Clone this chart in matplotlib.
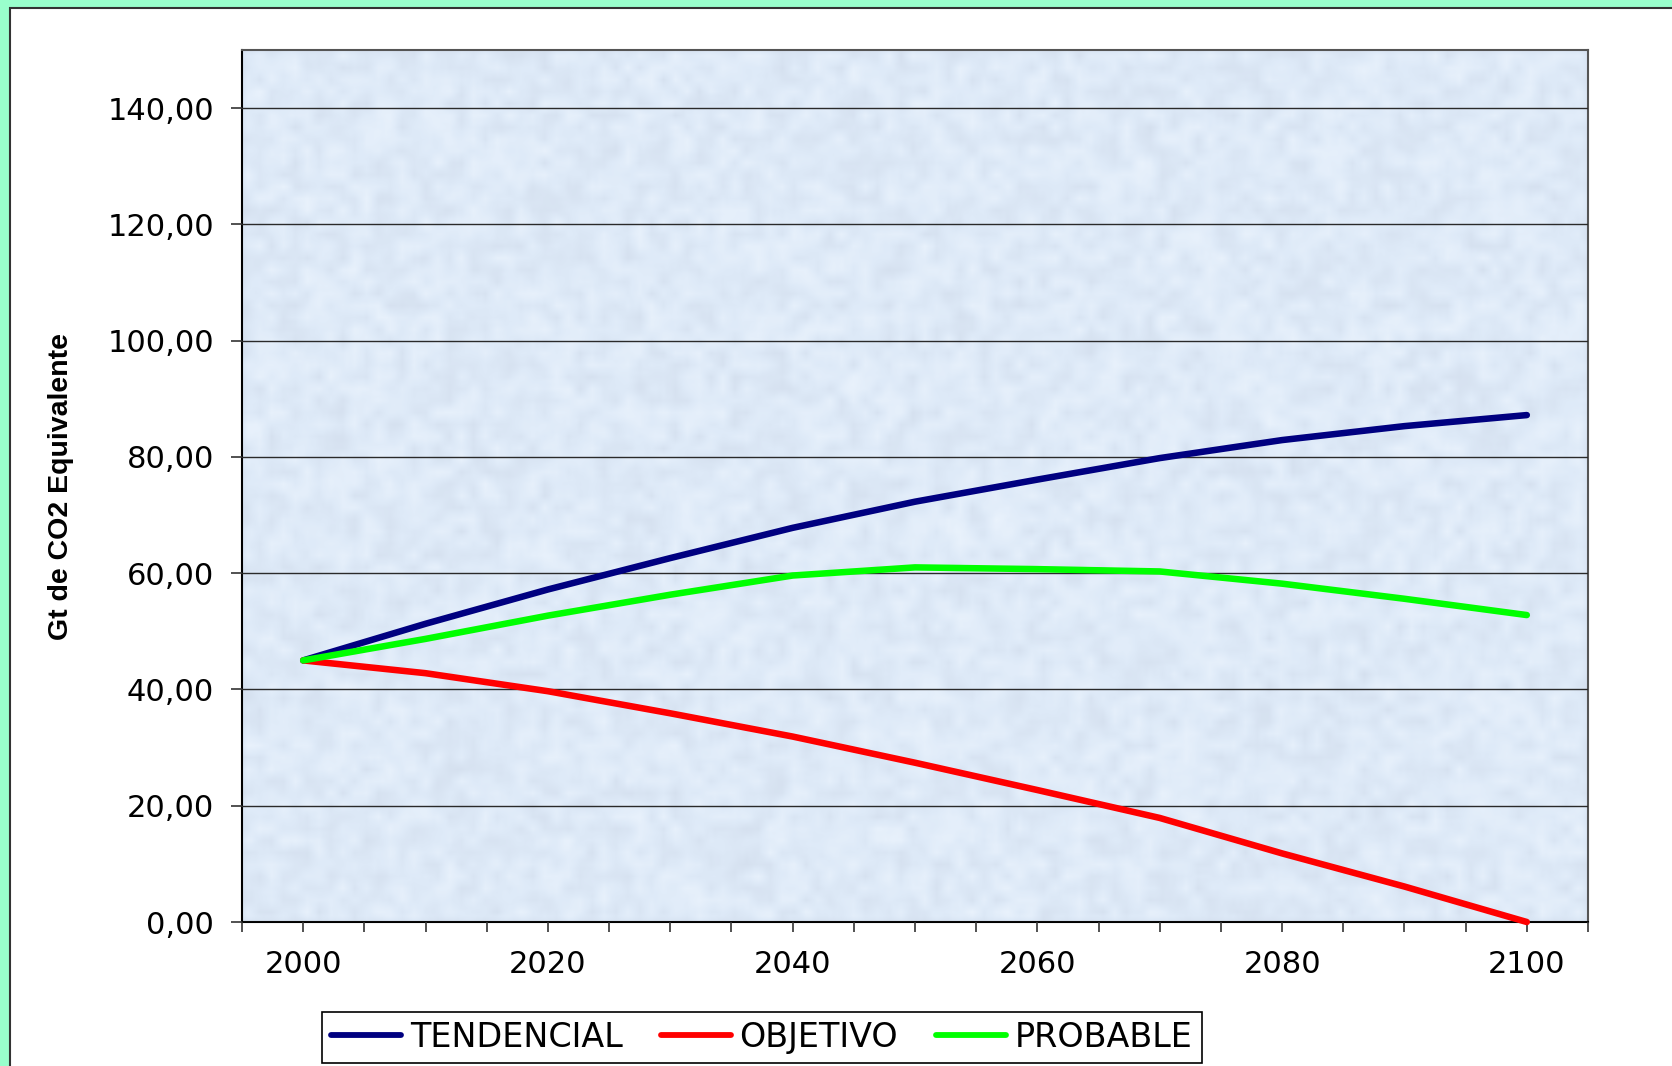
import numpy as np
import matplotlib
matplotlib.use("Agg")
import matplotlib.pyplot as plt
from matplotlib.patches import Rectangle
from matplotlib.ticker import FixedLocator, FuncFormatter
from matplotlib.lines import Line2D

# ---- data -----------------------------------------------------------------
years = [2000, 2010, 2020, 2030, 2040, 2050, 2060, 2070, 2080, 2090, 2100]
tendencial = [45.0, 51.3, 57.2, 62.6, 67.8, 72.3, 76.1, 79.8, 82.9, 85.3, 87.2]
objetivo = [45.0, 42.8, 39.7, 35.9, 31.9, 27.4, 22.7, 17.9, 11.8, 6.1, 0.0]
probable = [45.0, 48.7, 52.7, 56.3, 59.6, 61.0, 60.7, 60.3, 58.2, 55.6, 52.8]

series_names = ["TENDENCIAL", "OBJETIVO", "PROBABLE"]
series_colors = ["#000080", "#FF0000", "#00FF00"]
y_ticks = [0, 20, 40, 60, 80, 100, 120, 140]
x_label_years = [2000, 2020, 2040, 2060, 2080, 2100]
y_title = "Gt de CO2 Equivalente"

# ---- figure & page frame --------------------------------------------------
W, H = 1672, 1066
fig = plt.figure(figsize=(W / 100, H / 100), dpi=100)
fig.patch.set_facecolor("#99FFCC")
fig.patches.append(Rectangle((10 / W, -0.02), 1.2, (H - 8) / H + 0.02,
                             transform=fig.transFigure, facecolor="white",
                             edgecolor="#333333", linewidth=1.5, zorder=-5))

ax = fig.add_axes([242 / W, 1 - 922 / H, (1588 - 242) / W, (922 - 50) / H])
ax.set_xlim(1995, 2105)
ax.set_ylim(0, 150)

# mottled light-blue plot-area fill (deterministic hash texture)
ny, nx = 220, 340
jj, ii = np.meshgrid(np.arange(nx), np.arange(ny))
def hash_noise(a, b, s):
    v = np.sin(a * 12.9898 + b * 78.233 + s) * 43758.5453
    return v - np.floor(v)
coarse = hash_noise(ii // 3, jj // 3, 1.0)
fine = hash_noise(ii, jj, 7.0)
mix = 0.6 * coarse + 0.4 * fine
k = np.ones(3) / 3
mix = np.apply_along_axis(lambda r: np.convolve(r, k, mode="same"), 1, mix)
mix = np.apply_along_axis(lambda c: np.convolve(c, k, mode="same"), 0, mix)
base = np.array([222, 234, 248]) / 255.0
dark = np.array([210, 221, 236]) / 255.0
light = np.array([236, 244, 253]) / 255.0
t = mix[..., None]
tex = np.where(t < 0.5, dark + (base - dark) * (t / 0.5),
               base + (light - base) * ((t - 0.5) / 0.5))
ax.imshow(tex, extent=[1995, 2105, 0, 150], aspect="auto",
          interpolation="bilinear", zorder=0)

# gridlines
ax.yaxis.grid(True, color="#2a2a2a", linewidth=1.0, zorder=1)
ax.set_axisbelow(False)

# series
for vals, name, col in zip([tendencial, objetivo, probable], series_names, series_colors):
    ax.plot(years, vals, color=col, linewidth=4.7, solid_capstyle="round",
            solid_joinstyle="round", zorder=3, label=name, clip_on=False)

# axes styling
for s in ["left", "bottom"]:
    ax.spines[s].set_color("black")
    ax.spines[s].set_linewidth(1.5)
for s in ["top", "right"]:
    ax.spines[s].set_color("#555555")
    ax.spines[s].set_linewidth(1.5)

ax.yaxis.set_major_locator(FixedLocator(y_ticks))
ax.yaxis.set_major_formatter(FuncFormatter(lambda v, p: f"{v:.2f}".replace(".", ",")))
ax.xaxis.set_major_locator(FixedLocator(list(range(1995, 2106, 5))))
ax.xaxis.set_major_formatter(FuncFormatter(
    lambda v, p: f"{int(round(v))}" if int(round(v)) in x_label_years else ""))

ax.tick_params(axis="y", direction="out", length=8, width=1.2, color="#333333",
               pad=12, labelsize=22, labelcolor="black")
ax.tick_params(axis="x", direction="out", length=7, width=1.2, color="#333333",
               pad=13, labelsize=22, labelcolor="black")
for lab in ax.get_xticklabels() + ax.get_yticklabels():
    lab.set_fontfamily("DejaVu Sans")

ax.set_ylabel(y_title, fontfamily="Liberation Sans", fontweight="bold",
              fontsize=20.5, color="black")
ax.yaxis.set_label_coords((74 - 242) / (1588 - 242), 0.5)

# legend below the plot
handles = [Line2D([0], [0], color=c, linewidth=4.2, solid_capstyle="round")
           for c in series_colors]
leg = ax.legend(handles, series_names, loc="upper left",
                bbox_to_anchor=(322 / W, 1 - 1012 / H), bbox_transform=fig.transFigure,
                ncol=3, frameon=True, fancybox=False, edgecolor="black",
                prop={"family": "DejaVu Sans", "size": 24},
                handlelength=2.1, handletextpad=0.26, columnspacing=1.15,
                borderpad=0.27, borderaxespad=0.0)
leg.get_frame().set_linewidth(1.2)
leg.get_frame().set_facecolor("white")
leg.get_frame().set_alpha(1.0)

fig.savefig("out.png", dpi=100, facecolor=fig.get_facecolor())
